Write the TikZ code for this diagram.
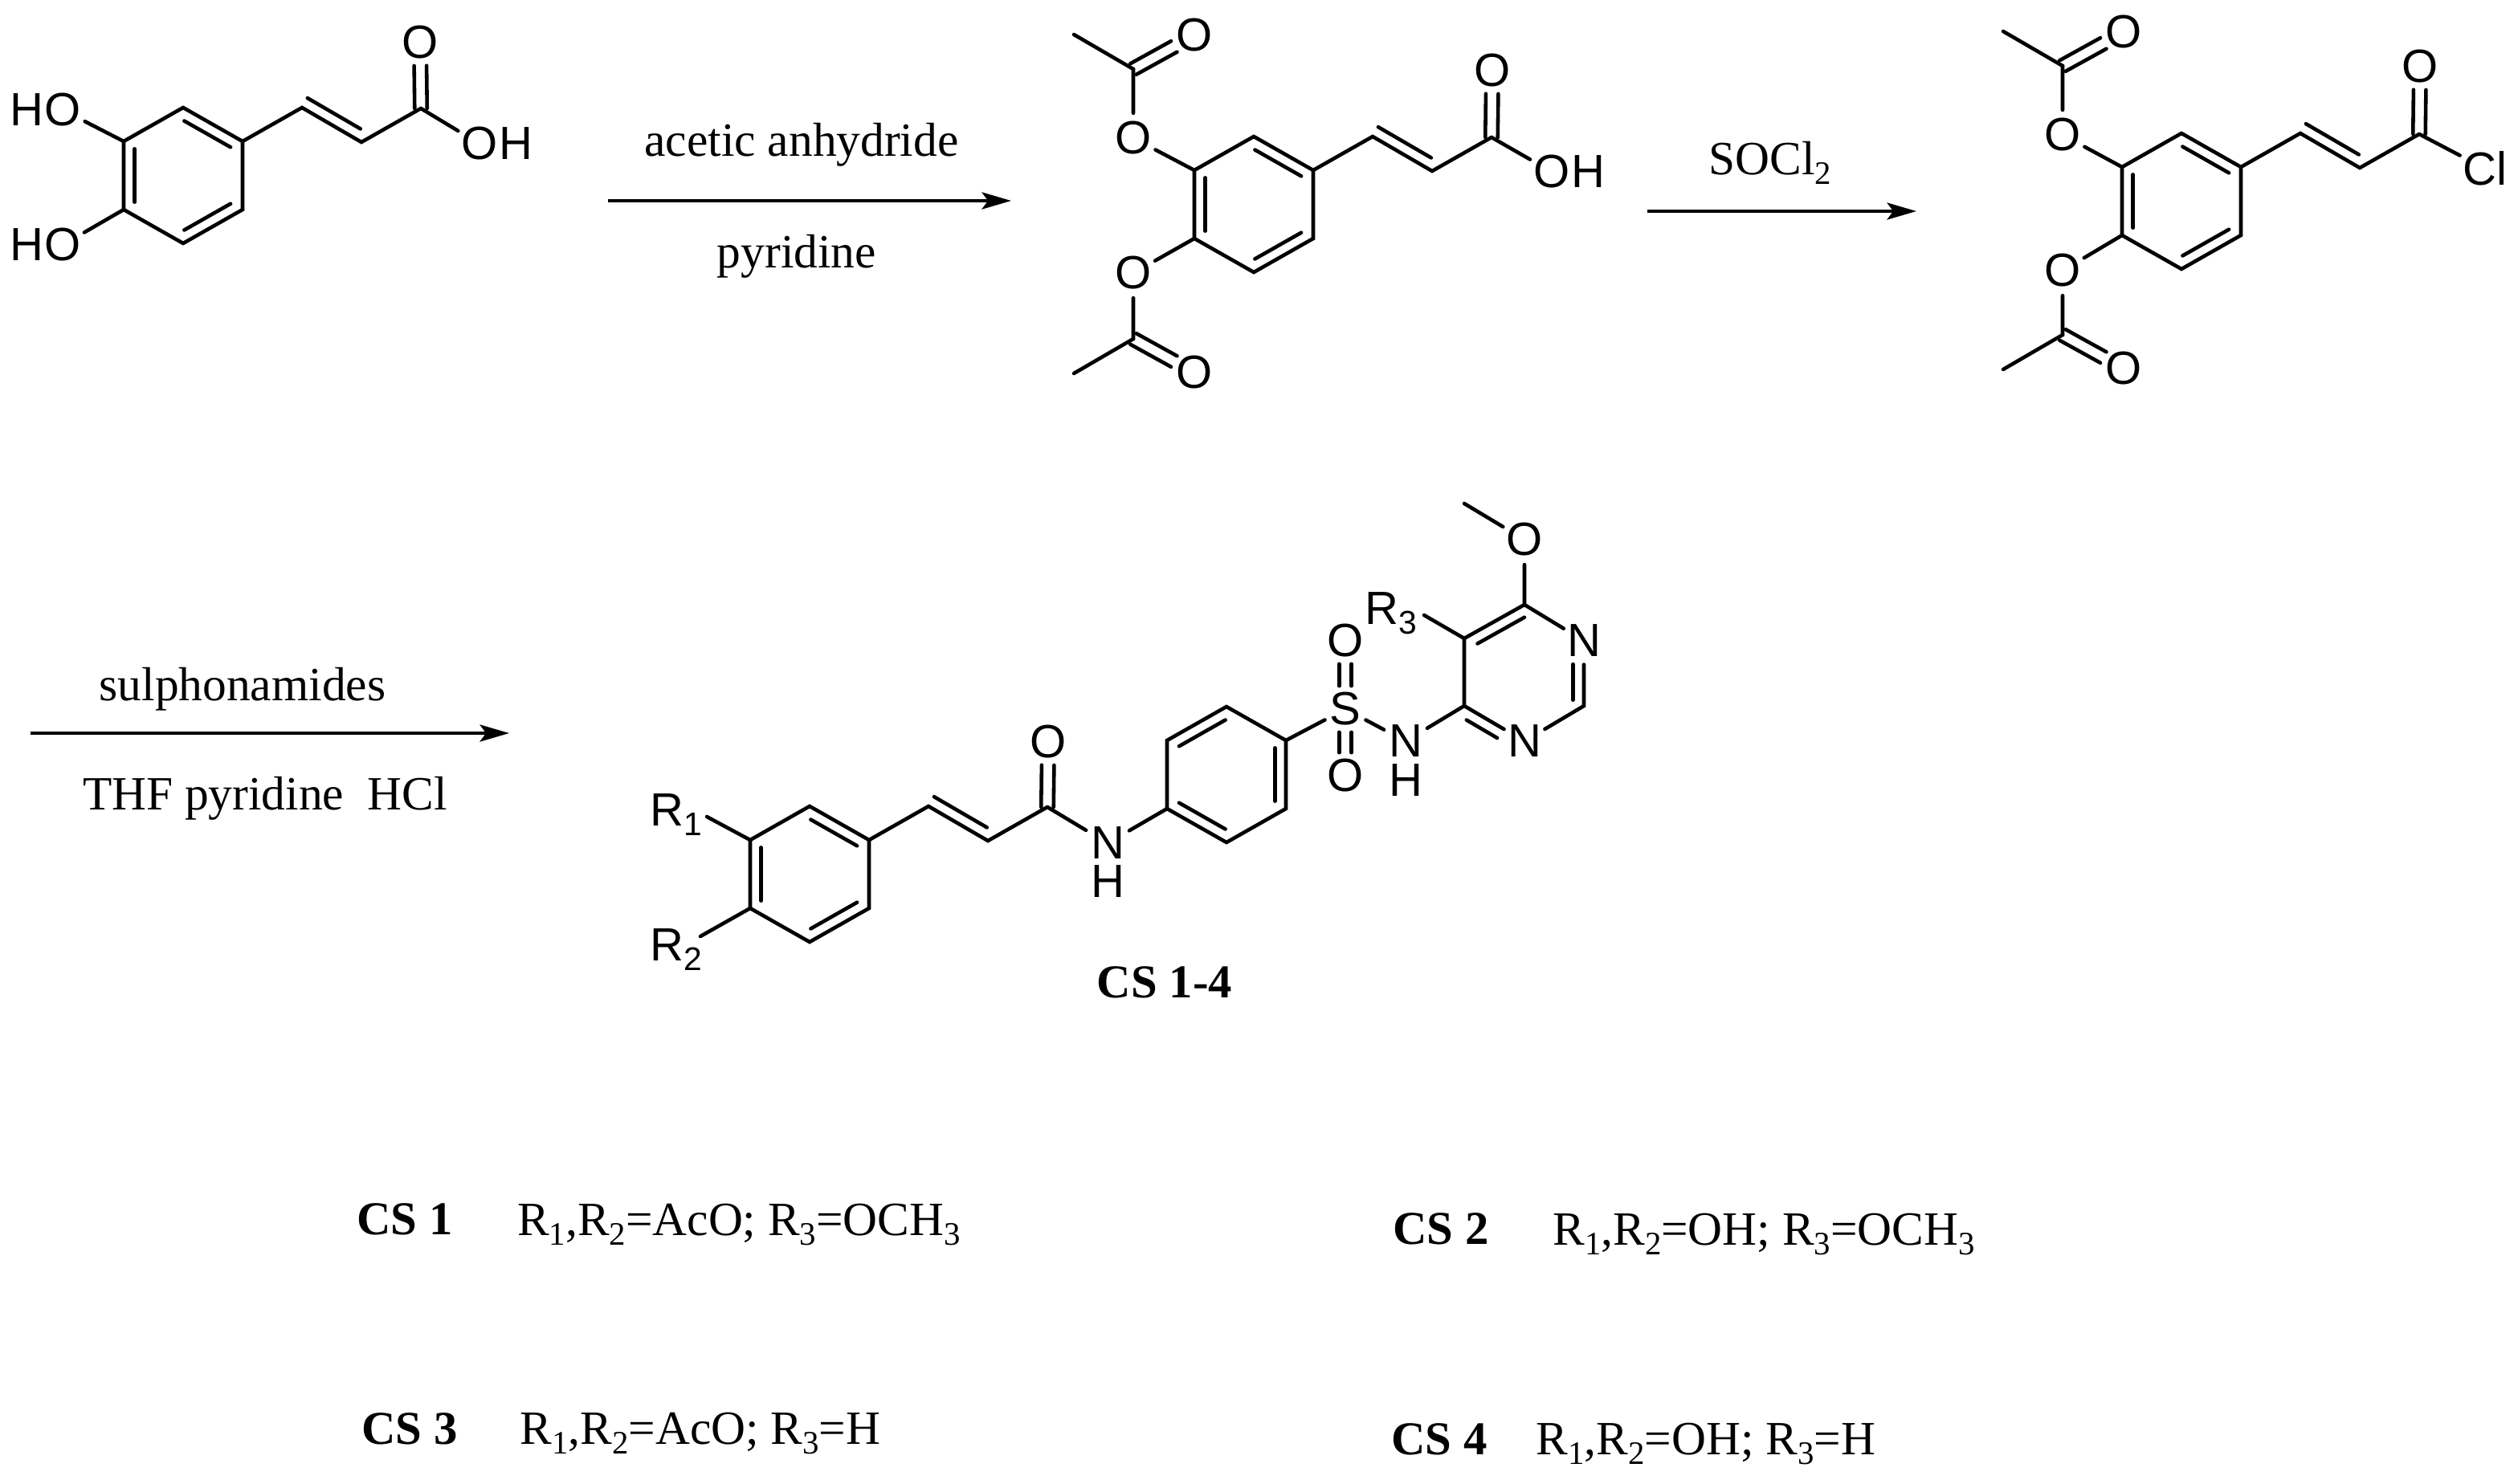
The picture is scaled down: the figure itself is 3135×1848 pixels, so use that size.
\documentclass[tikz,border=0pt]{standalone}
\usepackage{fontspec}
\setmainfont{Liberation Serif}
\setsansfont{Liberation Sans}
\usetikzlibrary{calc,arrows.meta}
\tikzset{x=0.01cm,y=-0.01cm}
\tikzset{bond/.style={line width=1.3pt,line cap=round}}
\tikzset{atom/.style={circle,inner sep=0pt,font=\fontsize{16.5}{20}\sffamily}}
\tikzset{boxatom/.style={inner sep=1.5pt,font=\fontsize{16.5}{20}\sffamily}}
\tikzset{plainatom/.style={inner sep=0pt,font=\fontsize{16.5}{20}\sffamily}}
\tikzset{rgroup/.style={anchor=base west,inner sep=0pt,font=\fontsize{16.5}{20}\sffamily}}
\tikzset{reagent/.style={anchor=base,inner sep=0pt,font=\fontsize{16.9}{20}\selectfont}}
\tikzset{compound/.style={anchor=base,inner sep=0pt,font=\fontsize{16.7}{20}\selectfont\bfseries}}
\tikzset{rxnarrow/.style={line width=1.1pt,-{Stealth[length=10.4pt,width=6pt,inset=2.2pt]}}}
\def\bondgap{3.9pt}
\def\dbloff{2.2pt}
\def\atomgap{8.2pt}
\newcommand\lowered[1]{\raisebox{-3.6pt}{\fontsize{11.6}{14}\selectfont #1}}
% a, b, side, shrink at a, shrink at b
\newcommand\innerbond[5]{\draw[bond] ($(#1)!#4!(#2)!\bondgap!#3:(#2)$) -- ($(#2)!#5!(#1)!\bondgap!-#3:(#1)$);}
% from, to the labelled atom, gap at from
\newcommand\dblbond[3]{%
\draw[bond] ($(#1)!#3!(#2)!\dbloff!90:(#2)$) -- ($(#2)!\atomgap!(#1)!\dbloff!-90:(#1)$);
\draw[bond] ($(#1)!#3!(#2)!\dbloff!-90:(#2)$) -- ($(#2)!\atomgap!(#1)!\dbloff!90:(#1)$);}
\newcommand\ringat[3]{%
\coordinate (#1a) at (#2,#3);
\coordinate (#1b) at ($(#1a)+(74,-42)$);
\coordinate (#1c) at ($(#1a)+(148,0)$);
\coordinate (#1d) at ($(#1a)+(148,85)$);
\coordinate (#1e) at ($(#1a)+(74,127)$);
\coordinate (#1f) at ($(#1a)+(0,85)$);
\draw[bond] (#1a) -- (#1b) -- (#1c) -- (#1d) -- (#1e) -- (#1f) -- cycle;}
\newcommand\tailat[1]{%
\coordinate (#1g) at ($(#1c)+(74,-42)$);
\coordinate (#1h) at ($(#1g)+(74,43)$);
\coordinate (#1i) at ($(#1h)+(74,-42)$);
\draw[bond] (#1c) -- (#1g) -- (#1h) -- (#1i);
\innerbond{#1g}{#1h}{90}{0}{.11}}
% prefix, ester O, distance to the C, sign
\newcommand\acetyl[4]{%
\coordinate (#1C) at ($(#2)+(0,#4*#3)$);
\coordinate (#1Me) at ($(#1C)+(-74,#4*43)$);
\node[atom] (#1O) at ($(#1C)+(76,#4*42)$) {O};
\draw[bond] (#2) -- (#1C) -- (#1Me);
\dblbond{#1C}{#1O}{0pt}}

\begin{document}
\begin{tikzpicture}
\useasboundingbox (0,0) rectangle (3135,1848);

% caffeic acid
\ringat{A}{154}{176}
\tailat{A}
\node[atom] (AO) at (523,53) {O};
\node[atom] (AOH) at (597,179) {O};
\node[plainatom] (AOHh) at ($(AOH)+(45,0)$) {H};
\node[atom] (AHOa) at (78,137) {O};
\node[plainatom] (AHOah) at ($(AHOa)+(-45,0)$) {H};
\node[atom] (AHOb) at (78,305) {O};
\node[plainatom] (AHObh) at ($(AHOb)+(-45,0)$) {H};
\dblbond{Ai}{AO}{0pt}
\draw[bond] (Ai) -- (AOH);
\draw[bond] (Aa) -- (AHOa);
\draw[bond] (Af) -- (AHOb);

% diacetyl acid
\ringat{B}{1487}{212}
\tailat{B}
\node[atom] (BO) at (1858,88) {O};
\node[atom] (BOH) at (1932,214) {O};
\node[plainatom] (BOHh) at ($(BOH)+(45,0)$) {H};
\node[atom] (BOa) at (1411,172) {O};
\node[atom] (BOb) at (1411,340) {O};
\dblbond{Bi}{BO}{0pt}
\draw[bond] (Bi) -- (BOH);
\draw[bond] (Ba) -- (BOa);
\draw[bond] (Bf) -- (BOb);
\acetyl{Bup}{BOa}{86}{-1}
\acetyl{Bdn}{BOb}{82}{1}

% acid chloride
\ringat{C}{2642}{208}
\tailat{C}
\node[atom] (CO) at (3013,83) {O};
\node[atom] (CCl) at (3094,210) {Cl};
\node[atom] (COa) at (2568,168) {O};
\node[atom] (COb) at (2568,337) {O};
\dblbond{Ci}{CO}{0pt}
\draw[bond] (Ci) -- (CCl);
\draw[bond] (Ca) -- (COa);
\draw[bond] (Cf) -- (COb);
\acetyl{Cup}{COa}{86}{-1}
\acetyl{Cdn}{COb}{80}{1}

% product
\ringat{D}{934}{1046}
\tailat{D}
\node[atom] (DO) at (1305,924) {O};
\node[boxatom] (DN) at (1379,1050) {N};
\node[plainatom] (DNh) at (1379,1098) {H};
\node[rgroup] (DRa) at (809,1028) {R\lowered{1}};
\node[rgroup] (DRb) at (809,1196) {R\lowered{2}};
\coordinate (DRaend) at (880,1017);
\coordinate (DRbend) at (872,1166);
\dblbond{Di}{DO}{0pt}
\draw[bond] (Di) -- (DN);
\draw[bond] (Da) -- (DRaend);
\draw[bond] (Df) -- (DRbend);

\ringat{E}{1453}{922}
\node[atom] (ES) at (1675,883) {S};
\node[atom] (EOa) at (1675,798) {O};
\node[atom] (EOb) at (1675,966) {O};
\node[boxatom] (EN) at (1750,923) {N};
\node[plainatom] (ENh) at (1750,972) {H};
\draw[bond] (DN) -- (Ef);
\draw[bond] (Ec) -- (ES);
\draw[bond] (ES) -- (EN);
\dblbond{ES}{EOa}{\atomgap}
\dblbond{ES}{EOb}{\atomgap}
\innerbond{Ea}{Eb}{-90}{.11}{.11}
\innerbond{Ec}{Ed}{-90}{.11}{.11}
\innerbond{Ee}{Ef}{-90}{.11}{.11}

% pyrimidine
\coordinate (Pa) at (1823,879);
\coordinate (Pb) at (1823,795);
\coordinate (Pc) at (1898,753);
\coordinate (Pe) at (1972,879);
\node[atom] (Pd) at (1972,798) {N};
\node[atom] (Pf) at (1898,923) {N};
\node[atom] (PO) at (1898,672) {O};
\coordinate (PMe) at (1823,627);
\node[rgroup] (PR) at (1699,777) {R\lowered{3}};
\coordinate (PRend) at (1773,766);
\draw[bond] (EN) -- (Pa) -- (Pb) -- (Pc) -- (Pd) -- (Pe) -- (Pf) -- (Pa);
\draw[bond] (Pc) -- (PO) -- (PMe);
\draw[bond] (Pb) -- (PRend);
\innerbond{Pb}{Pc}{-90}{.13}{.09}
\innerbond{Pd}{Pe}{-90}{.36}{.09}
\innerbond{Pa}{Pf}{-90}{.13}{.36}

\foreach \m in {A,B,C,D} {
	\innerbond{\m f}{\m a}{-90}{.11}{.11}
	\innerbond{\m b}{\m c}{-90}{.11}{.11}
	\innerbond{\m d}{\m e}{-90}{.11}{.11}
}

% reaction arrows
\coordinate (arrAs) at (757,250);
\coordinate (arrAe) at (1259,250);
\coordinate (arrBs) at (2051,263);
\coordinate (arrBe) at (2386,263);
\coordinate (arrCs) at (38,913);
\coordinate (arrCe) at (634,913);
\draw[rxnarrow] (arrAs) -- (arrAe);
\draw[rxnarrow] (arrBs) -- (arrBe);
\draw[rxnarrow] (arrCs) -- (arrCe);

\node[reagent] (anhydride) at (998,194) {acetic anhydride};
\node[reagent] (pyridine) at (992,333) {pyridine};
\node[reagent] (socl) at (2204,217) {SOCl\lowered{2}};
\node[reagent] (sulpha) at (302,872) {sulphonamides};
\node[reagent] (thf) at (330,1008) {THF pyridine\ \ HCl};

% compounds
\node[compound] (csall) at (1450,1242) {CS 1-4};
\node[compound] (csa) at (504,1537) {CS 1};
\node[reagent] (csatext) at (920,1538) {R\lowered{1},R\lowered{2}=AcO; R\lowered{3}=OCH\lowered{3}};
\node[compound] (csb) at (1794,1549) {CS 2};
\node[reagent] (csbtext) at (2196,1550) {R\lowered{1},R\lowered{2}=OH; R\lowered{3}=OCH\lowered{3}};
\node[compound] (csc) at (510,1798) {CS 3};
\node[reagent] (csctext) at (872,1798) {R\lowered{1},R\lowered{2}=AcO; R\lowered{3}=H};
\node[compound] (csd) at (1792,1811) {CS 4};
\node[reagent] (csdtext) at (2124,1811) {R\lowered{1},R\lowered{2}=OH; R\lowered{3}=H};

\end{tikzpicture}
\end{document}
